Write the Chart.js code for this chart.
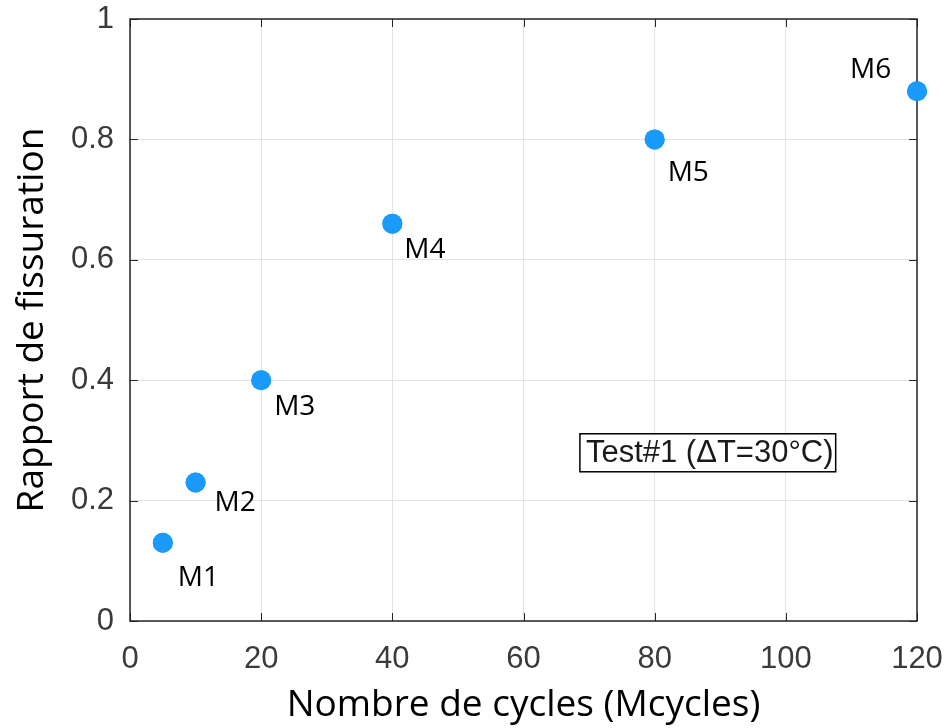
<!DOCTYPE html>
<html>
<head>
<meta charset="utf-8">
<script src="https://cdn.jsdelivr.net/npm/chart.js@4/dist/chart.umd.min.js"></script>
<style>
  html, body { margin: 0; padding: 0; background: #ffffff; }
  #wrap { width: 949px; height: 728px; }
</style>
</head>
<body>
<div id="wrap"><canvas id="c" width="949" height="728"></canvas></div>
<script>
// Measurement points: cycles (millions) vs. crack ratio
const pointNames = ['M1', 'M2', 'M3', 'M4', 'M5', 'M6'];
const cycles = [5, 10, 20, 40, 80, 120];
const crackRatio = [0.13, 0.23, 0.40, 0.66, 0.80, 0.88];
const xTicks = [0, 20, 40, 60, 80, 100, 120];
const yTicks = [0, 0.2, 0.4, 0.6, 0.8, 1];
const annotationText = 'Test#1 (ΔT=30°C)';

// label placement relative to each marker (px)
const labelOffsets = [[15, 35], [19, 20], [13, 27], [12, 26], [13, 34], [-67, -21]];

const dotColor = '#1a9bfc';
const tickColor = '#3a3a3a';

// fixed axis box sizes; tick-label overhang is not reserved
function fixBox(size, horizontal) {
  return s => {
    if (horizontal) s.height = size; else s.width = size;
    s.paddingTop = 0; s.paddingBottom = 0; s.paddingLeft = 0; s.paddingRight = 0;
  };
}

const frameAndLabels = {
  id: 'frameAndLabels',
  afterDraw(chart) {
    const { ctx, chartArea: a, scales } = chart;
    ctx.save();
    // inward tick marks on all four sides
    ctx.strokeStyle = '#262626';
    ctx.lineWidth = 1;
    const tl = 8;
    xTicks.forEach(v => {
      const px = Math.round(scales.x.getPixelForValue(v)) + 0.5;
      ctx.beginPath();
      ctx.moveTo(px, a.bottom); ctx.lineTo(px, a.bottom - tl);
      ctx.moveTo(px, a.top); ctx.lineTo(px, a.top + tl);
      ctx.stroke();
    });
    yTicks.forEach(v => {
      const py = Math.round(scales.y.getPixelForValue(v)) + 0.5;
      ctx.beginPath();
      ctx.moveTo(a.left, py); ctx.lineTo(a.left + tl, py);
      ctx.moveTo(a.right, py); ctx.lineTo(a.right - tl, py);
      ctx.stroke();
    });
    // box frame
    ctx.lineWidth = 1.5;
    ctx.strokeRect(a.left, a.top, a.right - a.left, a.bottom - a.top);

    // redraw markers over the frame
    const meta = chart.getDatasetMeta(0);
    ctx.fillStyle = dotColor;
    meta.data.forEach(pt => {
      ctx.beginPath();
      ctx.arc(pt.x, pt.y, 10, 0, Math.PI * 2);
      ctx.fill();
    });

    // point names
    ctx.fillStyle = '#000000';
    ctx.font = '28px "Open Sans"';
    ctx.textBaseline = 'middle';
    ctx.textAlign = 'left';
    meta.data.forEach((pt, i) => {
      const [dx, dy] = labelOffsets[i];
      ctx.fillText(pointNames[i], pt.x + dx, pt.y + dy);
    });

    // boxed note
    ctx.font = '31px "Liberation Sans"';
    const bx = scales.x.getPixelForValue(68.6);
    const bxr = scales.x.getPixelForValue(107.6);
    const by = scales.y.getPixelForValue(0.311);
    const bh = 38;
    ctx.fillStyle = '#ffffff';
    ctx.fillRect(bx, by, bxr - bx, bh);
    ctx.strokeStyle = '#000000';
    ctx.lineWidth = 1.5;
    ctx.strokeRect(bx, by, bxr - bx, bh);
    ctx.fillStyle = '#1a1a1a';
    ctx.fillText(annotationText, bx + 6, by + bh / 2 + 1);
    ctx.restore();
  }
};

new Chart(document.getElementById('c'), {
  type: 'scatter',
  data: {
    datasets: [{
      data: cycles.map((c, i) => ({ x: c, y: crackRatio[i] })),
      backgroundColor: dotColor,
      borderWidth: 0,
      pointRadius: 10,
      pointHoverRadius: 10,
      clip: false
    }]
  },
  options: {
    responsive: false,
    animation: false,
    events: [],
    layout: { padding: { top: 19, right: 32, left: 0, bottom: 0 } },
    plugins: { legend: { display: false }, tooltip: { enabled: false } },
    scales: {
      x: {
        type: 'linear',
        min: 0, max: 120,
        afterBuildTicks: s => { s.ticks = xTicks.map(v => ({ value: v })); },
        afterFit: fixBox(107, true),
        grid: { color: '#e3e3e3', drawTicks: false, lineWidth: 1 },
        border: { display: false },
        ticks: { padding: 20, color: tickColor, font: { family: '"Liberation Sans"', size: 31 }, maxRotation: 0 },
        title: { display: true, text: 'Nombre de cycles (Mcycles)', color: '#000000',
                 font: { family: '"Open Sans"', size: 37 }, padding: { top: 0, bottom: 0 } }
      },
      y: {
        type: 'linear',
        min: 0, max: 1,
        afterBuildTicks: s => { s.ticks = yTicks.map(v => ({ value: v })); },
        afterFit: fixBox(130, false),
        grid: { color: '#e3e3e3', drawTicks: false, lineWidth: 1 },
        border: { display: false },
        ticks: { padding: 16, color: tickColor, font: { family: '"Liberation Sans"', size: 31 },
                 callback: v => String(v) },
        title: { display: true, text: 'Rapport de fissuration', color: '#000000',
                 font: { family: '"Open Sans"', size: 37 }, padding: { top: 10, bottom: 0 } }
      }
    }
  },
  plugins: [frameAndLabels]
});
</script>
</body>
</html>
